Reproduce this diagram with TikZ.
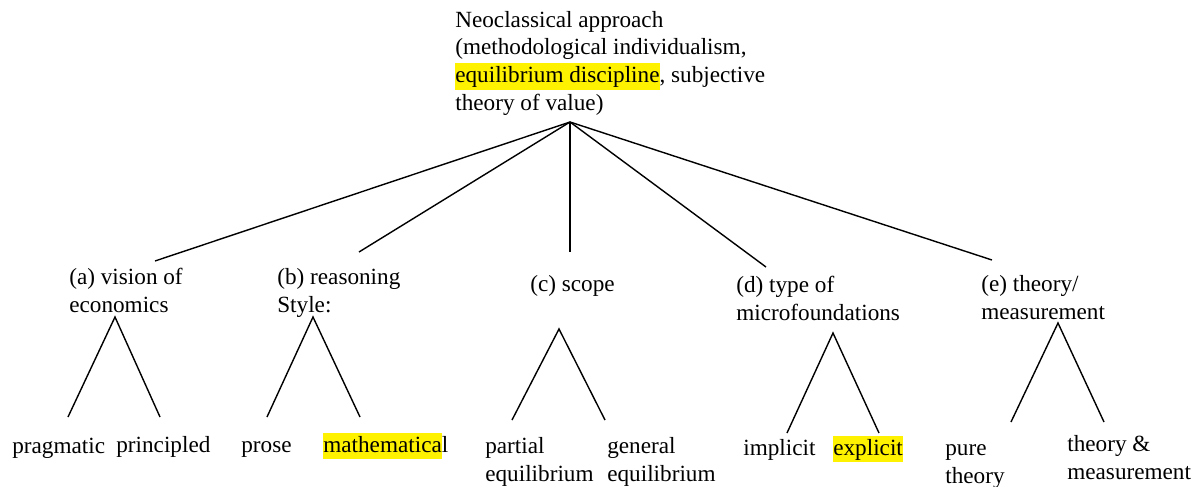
\documentclass[tikz,border=0pt]{standalone}
\usepackage{fontspec}
\setmainfont{Liberation Serif}
\usepackage{tikz}
\usepackage{xcolor}
\newcommand{\hilite}[1]{\setbox0\hbox{#1}\rlap{\color{yellow}\rule[-0.32em]{\wd0}{1.16em}}\box0}

\begin{document}
\begin{tikzpicture}[
    x=0.02cm, y=-0.02cm,
    lbl/.style={anchor=base west, inner sep=0pt, align=left, font=\fontsize{13.2}{15.7}\selectfont},
    branch/.style={line width=0.8pt}
]
\useasboundingbox (0,0) rectangle (1198,487);

% multi-line labels sit on the baseline of their last line
\node[lbl] (top) at (455, 110) {Neoclassical approach\\(methodological individualism,\\\hilite{equilibrium discipline}, subjective\\theory of value)};

\node[lbl] (va) at (69, 312) {(a) vision of\\economics};
\node[lbl] (vb) at (277, 312) {(b) reasoning\\Style:};
\node[lbl] (vc) at (530, 291) {(c) scope};
\node[lbl] (vd) at (736, 320) {(d) type of\\microfoundations};
\node[lbl] (ve) at (981, 319) {(e) theory/\\measurement};

\node[lbl] (prag) at (12, 453) {pragmatic};
\node[lbl] (prin) at (116, 452) {principled};
\node[lbl] (pros) at (241, 452) {prose};
\node[lbl] (math) at (323, 452) {\hilite{mathematica}l};
\node[lbl] (part) at (485, 481) {partial\\equilibrium};
\node[lbl] (genl) at (607, 481) {general\\equilibrium};
\node[lbl] (impl) at (743, 455) {implicit};
\node[lbl] (expl) at (833, 455) {\hilite{explicit}};
\node[lbl] (pure) at (945, 483) {pure\\theory};
\node[lbl] (meas) at (1067, 479) {theory \&\\measurement};

% ends of the branches
\coordinate (root) at (570, 122);
\coordinate (ea) at (155, 261);
\coordinate (eb) at (359, 252);
\coordinate (ec) at (570, 252);
\coordinate (ed) at (766, 267);
\coordinate (ee) at (992, 260);

\draw[branch] (root) -- (ea);
\draw[branch] (root) -- (eb);
\draw[branch] (root) -- (ec);
\draw[branch] (root) -- (ed);
\draw[branch] (root) -- (ee);

% the small trees
\coordinate (ta) at (115, 317);
\coordinate (la) at (68, 417);
\coordinate (ra) at (160, 417);
\coordinate (tb) at (313, 317);
\coordinate (lb) at (267, 417);
\coordinate (rb) at (360, 417);
\coordinate (tc) at (559, 329);
\coordinate (lc) at (512, 420);
\coordinate (rc) at (605, 420);
\coordinate (td) at (833, 333);
\coordinate (ld) at (787, 433);
\coordinate (rd) at (879, 433);
\coordinate (te) at (1058, 323);
\coordinate (le) at (1011, 422);
\coordinate (re) at (1104, 422);

\draw[branch] (la) -- (ta) -- (ra);
\draw[branch] (lb) -- (tb) -- (rb);
\draw[branch] (lc) -- (tc) -- (rc);
\draw[branch] (ld) -- (td) -- (rd);
\draw[branch] (le) -- (te) -- (re);
\end{tikzpicture}
\end{document}
